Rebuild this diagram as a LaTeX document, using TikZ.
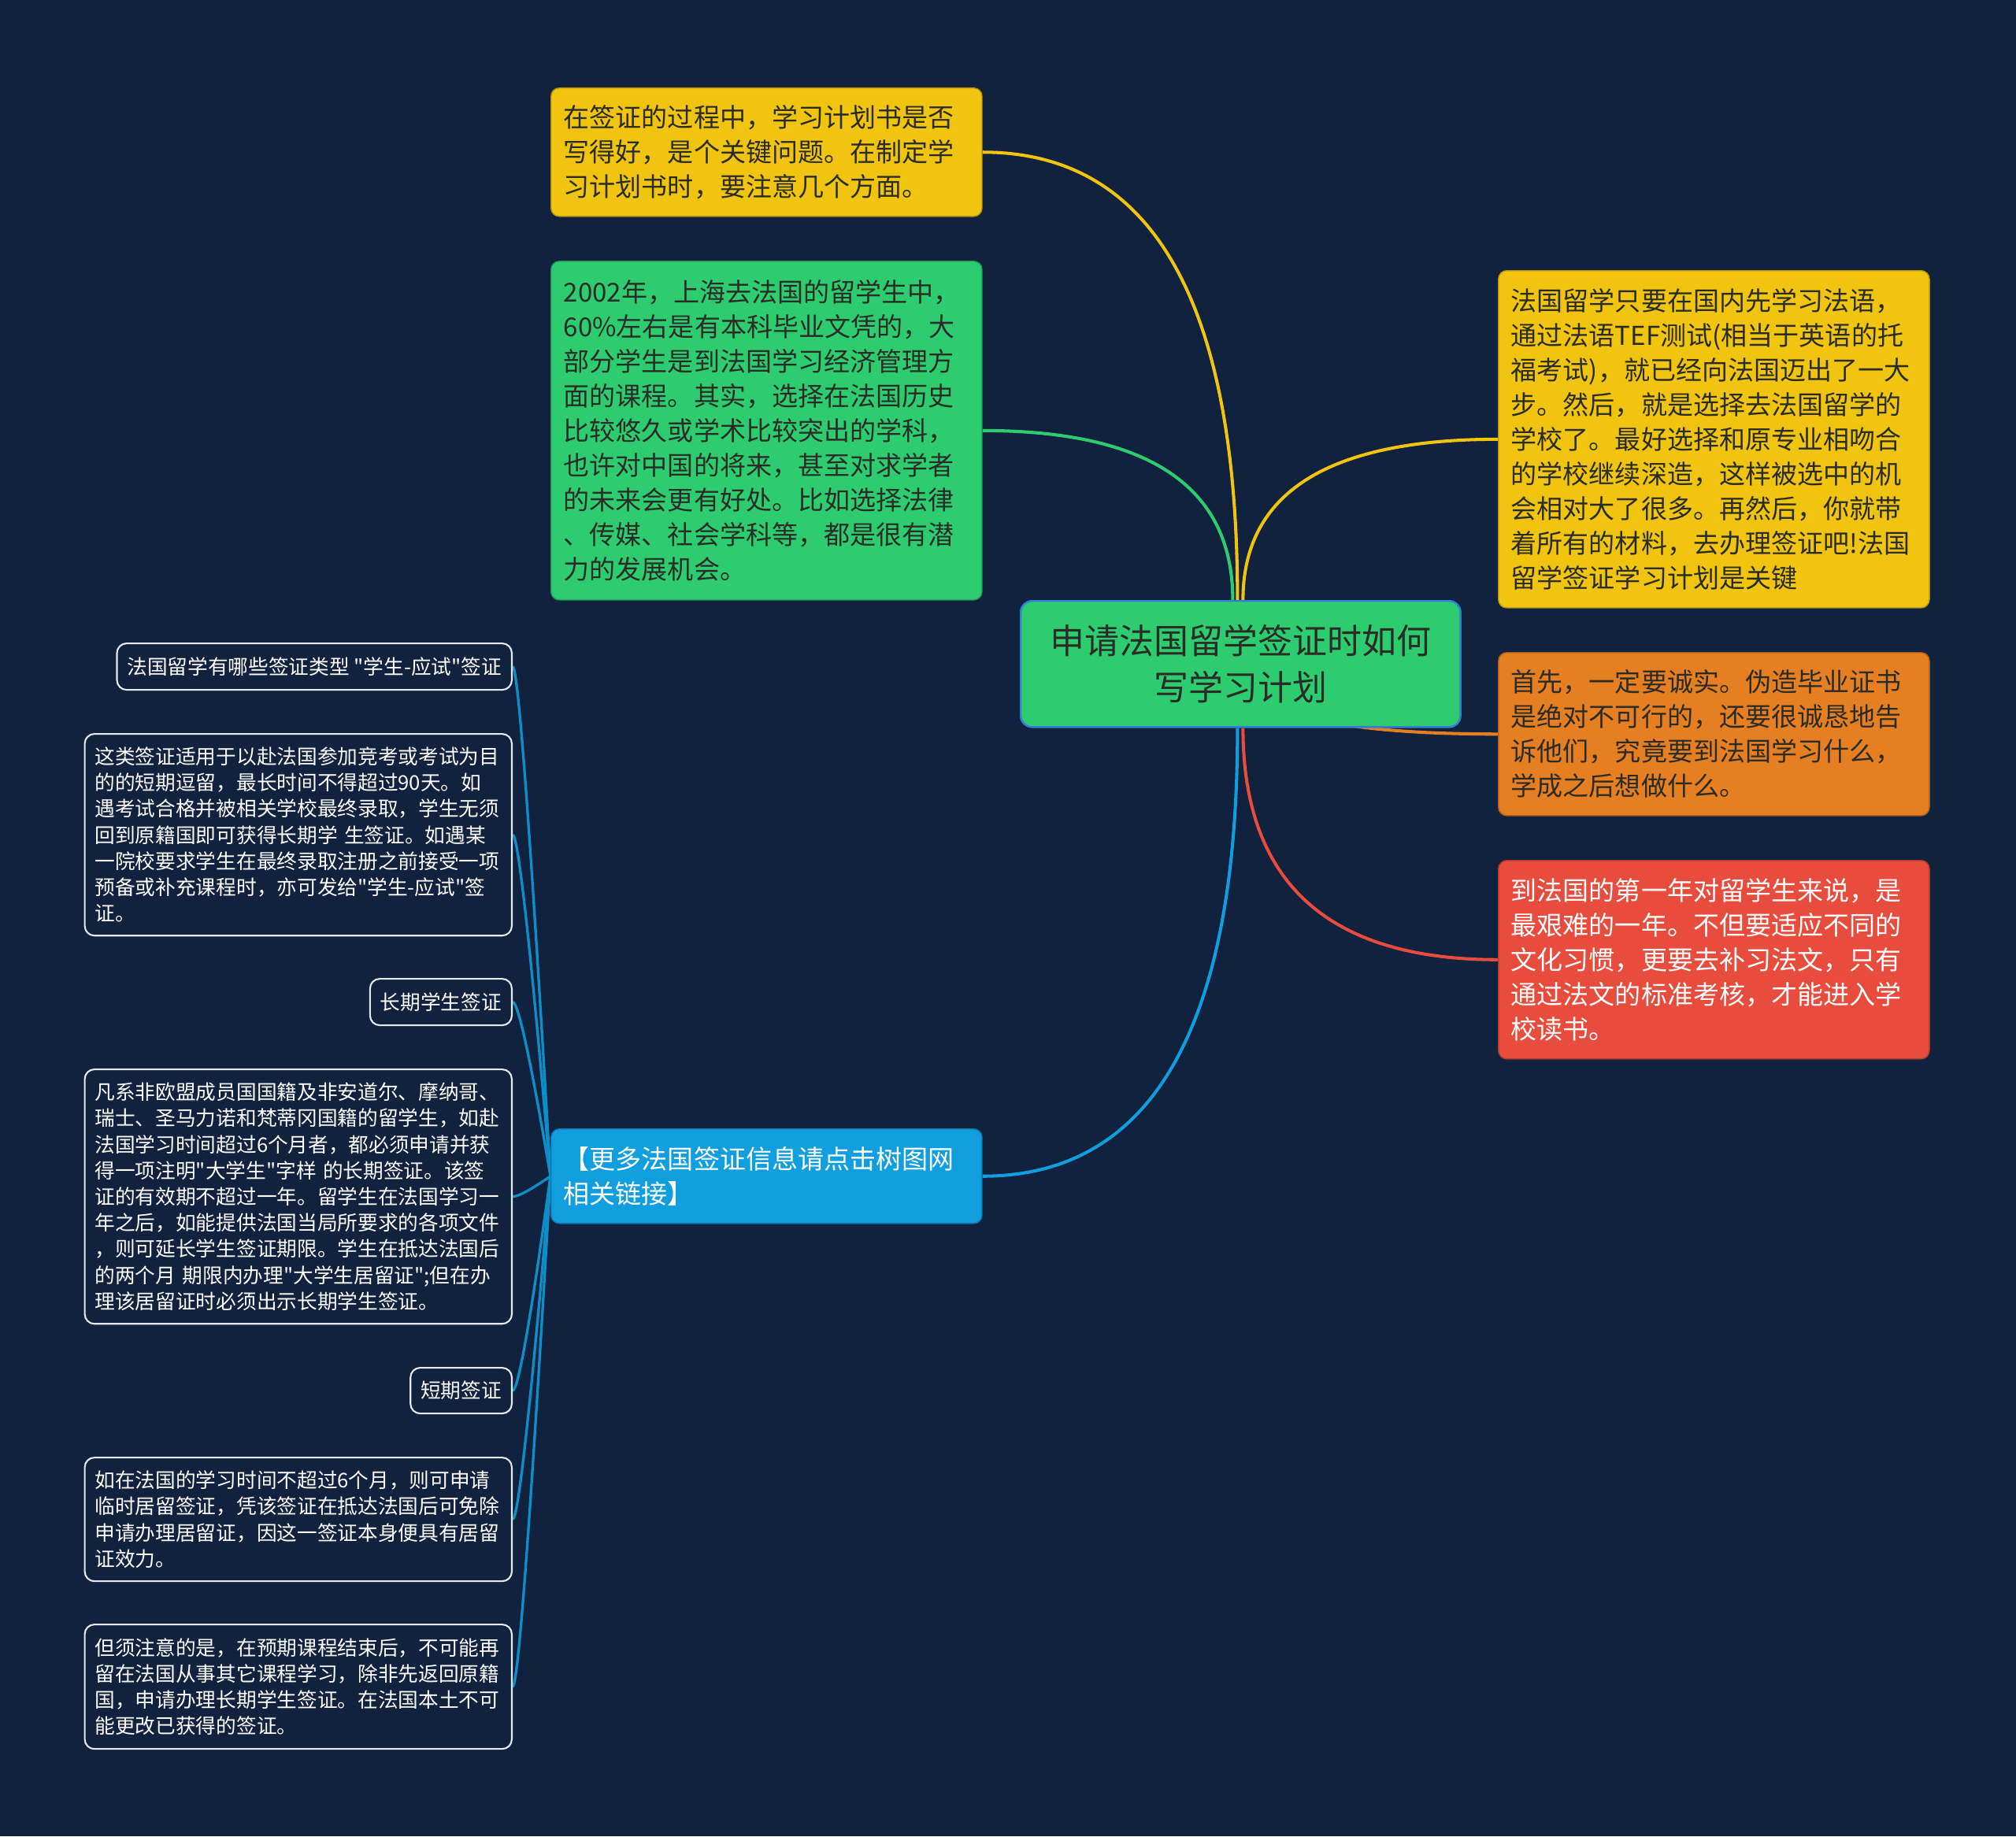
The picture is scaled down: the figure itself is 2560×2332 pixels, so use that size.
\documentclass[tikz,border=0pt]{standalone}
\usepackage{fontspec}
\newfontfamily\cjk{Noto Sans CJK SC}
\usetikzlibrary{calc}
\definecolor{night}{RGB}{16,34,62}
\definecolor{sunflower}{RGB}{241,196,15}
\definecolor{emerald}{RGB}{46,204,113}
\definecolor{carrot}{RGB}{230,126,34}
\definecolor{alizarin}{RGB}{231,76,60}
\definecolor{sky}{RGB}{16,158,222}
\definecolor{rootline}{RGB}{52,125,215}
\definecolor{frost}{RGB}{228,234,240}
\definecolor{ink}{RGB}{42,44,38}
\pgfdeclarelayer{bg}
\pgfdeclarelayer{links}
\pgfsetlayers{bg,links,main}
\tikzset{
  hub/.style={fill=emerald,draw=rootline,line width=0.7pt,rounded corners=4pt,
    anchor=north west,inner sep=0pt,minimum width=5.58cm,minimum height=1.6cm,
    align=center,font=\cjk\fontsize{12.5}{16.8}\selectfont,text=ink},
  card/.style={fill=#1,draw=#1!75!black,line width=0.4pt,rounded corners=3pt,
    anchor=north west,inner xsep=0.16cm,inner ysep=0pt,text width=5.15cm,
    align=left,font=\cjk\fontsize{9.4}{12.5}\selectfont,text=ink},
  card/.default=sunflower,
  note/.style={fill=night,draw=frost,line width=0.6pt,rounded corners=3.5pt,
    anchor=north east,inner xsep=0.13cm,inner ysep=0pt,align=left,
    font=\cjk\fontsize{7.3}{9.45}\selectfont,text=white},
  link/.style={line width=1.15pt,draw=#1},
  twig/.style={line width=0.95pt,draw=sky!90!black},
  % quadratic curve bending round the corner (start |- target)
  quad/.style={to path={.. controls ($(\tikztostart)!2/3!(\tikztostart |- \tikztotarget)$)
    and ($(\tikztotarget)!2/3!(\tikztostart |- \tikztotarget)$) .. (\tikztotarget)}},
  % fan of leaves off the link box
  fan/.style={to path={.. controls ($(\tikztostart)!2/3!(\tikztotarget)+(7,0)$)
    and ($(\tikztotarget)+(7,0)$) .. (\tikztotarget)}},
}

\begin{document}
\begin{tikzpicture}[x=0.01cm,y=-0.01cm]
  \begin{pgfonlayer}{bg}
    \fill[night] (0,0) rectangle (2560,2332);
  \end{pgfonlayer}
  \useasboundingbox (0,0) rectangle (2560,2332);

  % centre
  \node[hub] (root) at (1295,762) {申请法国留学签证时如何\\写学习计划};

  % left branches
  \node[card,minimum height=1.63cm] (plan) at (699,111) {在签证的过程中，学习计划书是否\\
    写得好，是个关键问题。在制定学\\习计划书时，要注意几个方面。};
  \node[card=emerald,minimum height=4.30cm] (subject) at (699,331) {2002年，上海去法国的留学生中，\\
    60\%左右是有本科毕业文凭的，大\\部分学生是到法国学习经济管理方\\
    面的课程。其实，选择在法国历史\\比较悠久或学术比较突出的学科，\\
    也许对中国的将来，甚至对求学者\\的未来会更有好处。比如选择法律\\
    、传媒、社会学科等，都是很有潜\\力的发展机会。};
  \node[card=sky,text=white,minimum height=1.20cm] (more) at (699,1433) {【更多法国签证信息请点击树图网\\相关链接】};

  % right branches
  \node[card,minimum height=4.28cm] (french) at (1902,343) {法国留学只要在国内先学习法语，\\
    通过法语TEF测试(相当于英语的托\\福考试)，就已经向法国迈出了一大\\
    步。然后，就是选择去法国留学的\\学校了。最好选择和原专业相吻合\\
    的学校继续深造，这样被选中的机\\会相对大了很多。再然后，你就带\\
    着所有的材料，去办理签证吧!法国\\留学签证学习计划是关键};
  \node[card=carrot,minimum height=2.07cm] (honest) at (1902,828) {首先，一定要诚实。伪造毕业证书\\
    是绝对不可行的，还要很诚恳地告\\诉他们，究竟要到法国学习什么，\\学成之后想做什么。};
  \node[card=alizarin,text=white,minimum height=2.52cm] (year) at (1902,1092) {到法国的第一年对留学生来说，是\\
    最艰难的一年。不但要适应不同的\\文化习惯，更要去补习法文，只有\\
    通过法文的标准考核，才能进入学\\校读书。};

  % leaves under the link box
  \node[note,minimum height=0.59cm] (types) at (651,816) {法国留学有哪些签证类型 "学生-应试"签证};
  \node[note,text width=5.16cm,minimum height=2.56cm] (exam) at (651,931) {这类签证适用于以赴法国参加竞考或考试为目\\
    的的短期逗留，最长时间不得超过90天。如\\遇考试合格并被相关学校最终录取，学生无须\\
    回到原籍国即可获得长期学 生签证。如遇某\\一院校要求学生在最终录取注册之前接受一项\\
    预备或补充课程时，亦可发给"学生-应试"签\\证。};
  \node[note,minimum height=0.59cm] (long) at (651,1242) {长期学生签证};
  \node[note,text width=5.16cm,minimum height=3.23cm] (longtext) at (651,1357) {凡系非欧盟成员国国籍及非安道尔、摩纳哥、\\
    瑞士、圣马力诺和梵蒂冈国籍的留学生，如赴\\法国学习时间超过6个月者，都必须申请并获\\
    得一项注明"大学生"字样 的长期签证。该签\\证的有效期不超过一年。留学生在法国学习一\\
    年之后，如能提供法国当局所要求的各项文件\\，则可延长学生签证期限。学生在抵达法国后\\
    的两个月 期限内办理"大学生居留证";但在办\\理该居留证时必须出示长期学生签证。};
  \node[note,minimum height=0.58cm] (short) at (651,1736) {短期签证};
  \node[note,text width=5.16cm,minimum height=1.57cm] (shorttext) at (651,1850) {如在法国的学习时间不超过6个月，则可申请\\
    临时居留签证，凭该签证在抵达法国后可免除\\申请办理居留证，因这一签证本身便具有居留\\证效力。};
  \node[note,text width=5.16cm,minimum height=1.58cm] (notice) at (651,2062) {但须注意的是，在预期课程结束后，不可能再\\
    留在法国从事其它课程学习，除非先返回原籍\\国，申请办理长期学生签证。在法国本土不可\\能更改已获得的签证。};

  % connectors
  \begin{pgfonlayer}{links}
    \coordinate (up1) at ($(root.north)+(-4,0)$);
    \coordinate (up2) at ($(root.north)+(-10,0)$);
    \coordinate (up3) at ($(root.north)+(3,0)$);
    \coordinate (dn1) at ($(root.south)+(-4,0)$);
    \coordinate (dn2) at ($(root.south)+(3,0)$);
    \draw[link=sunflower] (up1) to[quad] (plan.east);
    \draw[link=emerald] (up2) to[quad] (subject.east);
    \draw[link=sunflower] (up3) to[quad] (french.west);
    \draw[link=carrot] (root.center) to[quad] (honest.west);
    \draw[link=alizarin] (dn2) to[quad] (year.west);
    \draw[link=sky] (dn1) to[quad] (more.east);
    \foreach \leaf in {types,exam,long,longtext,short,shorttext,notice}
      \draw[twig] (more.west) to[fan] (\leaf.east);
  \end{pgfonlayer}
\end{tikzpicture}
\end{document}
